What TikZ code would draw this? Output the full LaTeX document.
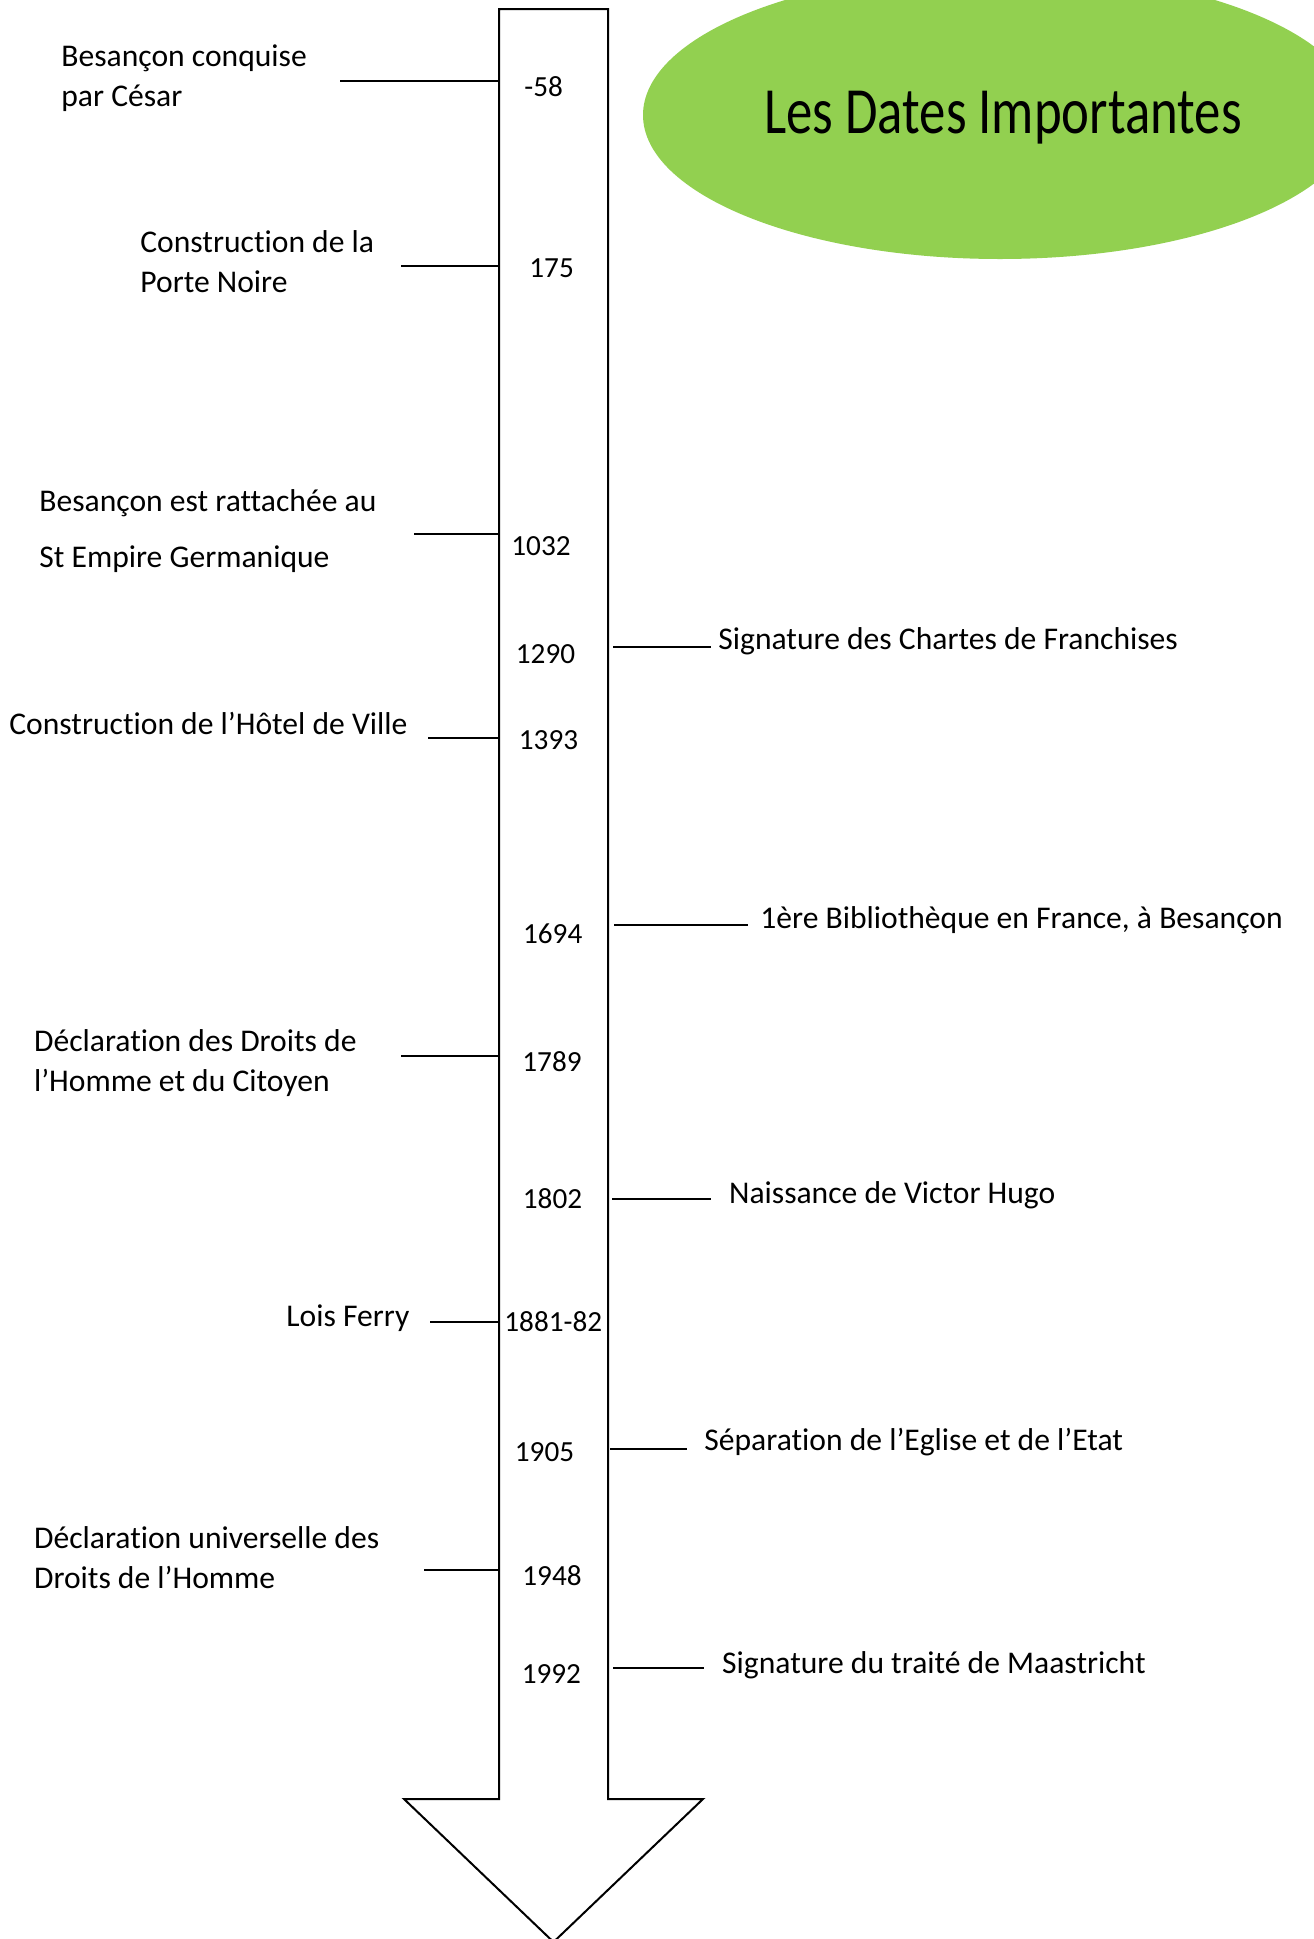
\documentclass[tikz,border=0pt]{standalone}
\usepackage{fontspec}
\setmainfont[RawFeature={-liga;-clig;-dlig;-calt}]{Carlito}
\usetikzlibrary{shapes.geometric}
\definecolor{vertclair}{HTML}{92D050}
\tikzset{
  evt/.style={anchor=base west,inner sep=0pt,align=left,font=\fontsize{15.8}{20}\selectfont},
  annee/.style={anchor=base west,inner sep=0pt,font=\fontsize{14.6}{17}\selectfont},
  trait/.style={line width=0.9pt},
}
\begin{document}
\begin{tikzpicture}
           [x=0.5pt,y=-0.5pt]
           \useasboundingbox (0,0) rectangle (1313,1939);

           % bulle du titre
           \node (bulle) [ellipse,fill=vertclair,inner sep=0pt,minimum width=357pt,minimum height=144pt] at (1000,115) {};
           \node (titre) [anchor=base,inner sep=0pt] at (1003,133.3)
             {\fontsize{33}{40}\selectfont\scalebox{0.8}[1]{Les Dates Importantes}};

           % la fleche
           \coordinate (flecheG) at (499,9);
           \coordinate (flecheD) at (608,9);
           \draw[line width=1pt] (flecheG) -- (flecheD) -- (608,1799) -- (703,1799)
             -- (553.5,1942) -- (404,1799) -- (499,1799) -- cycle;

           % evenements a gauche
           \node (cesar) [evt] at (61,106) {Besançon conquise\\par César};
           \coordinate (t1) at (340,80.7);
           \draw[trait] (t1) -- (t1 -| flecheG);

           \node (porte) [evt] at (140,292.7) {Construction de la\\Porte Noire};
           \coordinate (t2) at (401,266);
           \draw[trait] (t2) -- (t2 -| flecheG);

           \node (empire) [evt] at (39,567) {Besançon est rattachée au\\[8pt]St Empire Germanique};
           \coordinate (t3) at (414,534);
           \draw[trait] (t3) -- (t3 -| flecheG);

           \node (hotel) [evt] at (9,734) {Construction de l’Hôtel de Ville};
           \coordinate (t5) at (428,738);
           \draw[trait] (t5) -- (t5 -| flecheG);

           \node (droits) [evt] at (33.7,1091.7) {Déclaration des Droits de\\l’Homme et du Citoyen};
           \coordinate (t7) at (401,1056);
           \draw[trait] (t7) -- (t7 -| flecheG);

           \node (ferry) [evt] at (286,1326.7) {Lois Ferry};
           \coordinate (t9) at (430,1321.7);
           \draw[trait] (t9) -- (t9 -| flecheG);

           \node (univ) [evt] at (33.7,1588) {Déclaration universelle des\\Droits de l’Homme};
           \coordinate (t11) at (424,1570);
           \draw[trait] (t11) -- (t11 -| flecheG);

           % evenements a droite
           \node (chartes) [evt] at (718,649) {Signature des Chartes de Franchises};
           \coordinate (t4a) at (613,647);
           \coordinate (t4b) at (711,647);
           \draw[trait] (t4a) -- (t4b);

           \node (biblio) [evt] at (760,928) {1ère Bibliothèque en France, à Besançon};
           \coordinate (t6a) at (614,925);
           \coordinate (t6b) at (748,925);
           \draw[trait] (t6a) -- (t6b);

           \node (hugo) [evt] at (728.7,1203) {Naissance de Victor Hugo};
           \coordinate (t8a) at (612,1199);
           \coordinate (t8b) at (711,1199);
           \draw[trait] (t8a) -- (t8b);

           \node (eglise) [evt] at (704,1450.7) {Séparation de l’Eglise et de l’Etat};
           \coordinate (t10a) at (610,1449);
           \coordinate (t10b) at (687,1449);
           \draw[trait] (t10a) -- (t10b);

           \node (traite) [evt] at (721.8,1673.3) {Signature du traité de Maastricht};
           \coordinate (t12a) at (613,1668);
           \coordinate (t12b) at (704,1668);
           \draw[trait] (t12a) -- (t12b);

           % les annees
           \node (a1) [annee] at (524,96.7) {-58};
           \node (a2) [annee] at (529,277) {175};
           \node (a3) [annee] at (511,555) {1032};
           \node (a4) [annee] at (515.5,663) {1290};
           \node (a5) [annee] at (518.5,749) {1393};
           \node (a6) [annee] at (522.7,943.3) {1694};
           \node (a7) [annee] at (522,1071.7) {1789};
           \node (a8) [annee] at (522.5,1208) {1802};
           \node (a9) [annee] at (504,1331.7) {1881-82};
           \node (a10) [annee] at (514.5,1461.7) {1905};
           \node (a11) [annee] at (522,1585) {1948};
           \node (a12) [annee] at (521.4,1683.3) {1992};
         \end{tikzpicture}
\end{document}
